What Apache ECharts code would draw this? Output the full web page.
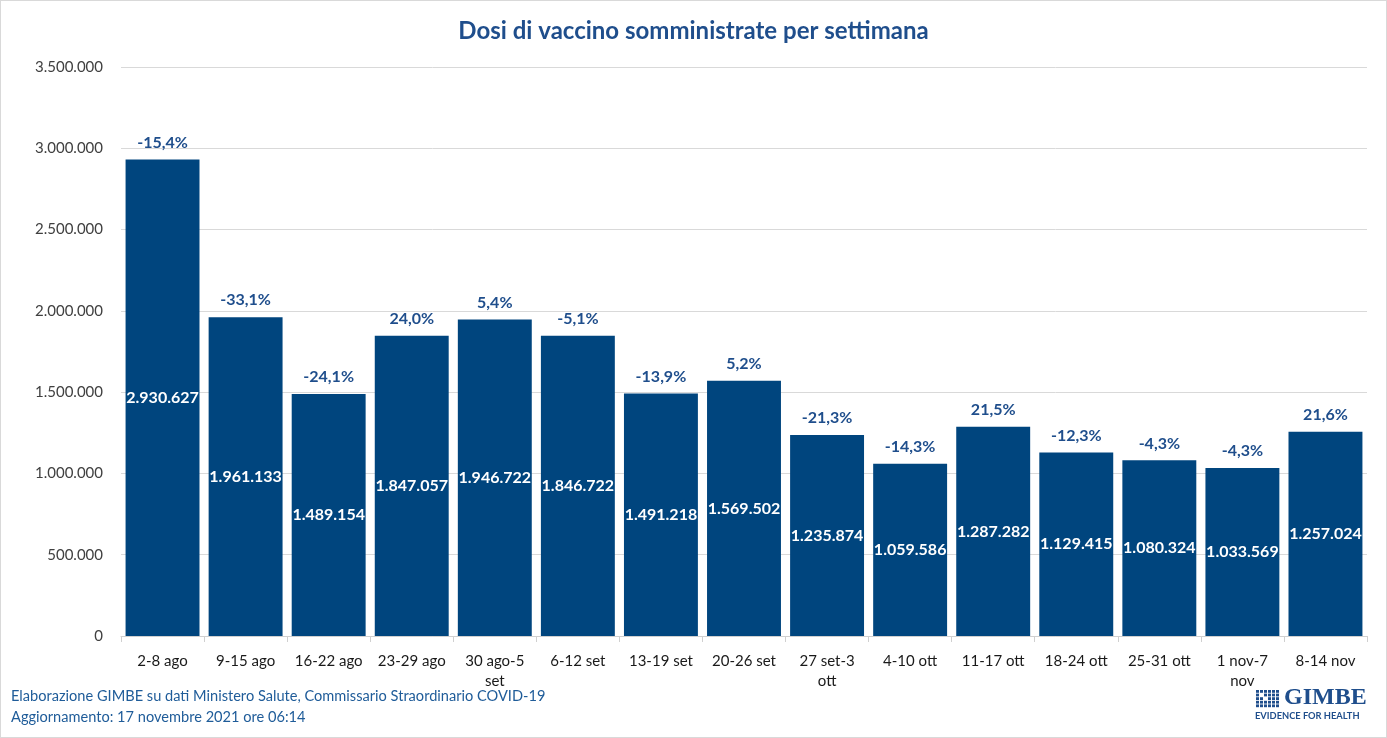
<!DOCTYPE html>
<html><head><meta charset="utf-8">
<script src="https://cdn.jsdelivr.net/npm/echarts@6/dist/echarts.min.js"></script>
<style>html,body{margin:0;padding:0;background:#fff}#c{width:1387px;height:738px;box-sizing:border-box;border:1px solid #d9d9d9}</style>
</head><body><div id="c"></div>
<script>
const categories = ["2-8 ago","9-15 ago","16-22 ago","23-29 ago","30 ago-5\nset","6-12 set","13-19 set","20-26 set","27 set-3\nott","4-10 ott","11-17 ott","18-24 ott","25-31 ott","1 nov-7\nnov","8-14 nov"];
const doses = [2930627,1961133,1489154,1847057,1946722,1846722,1491218,1569502,1235874,1059586,1287282,1129415,1080324,1033569,1257024];
const weeklyChange = [-15.4,-33.1,-24.1,24.0,5.4,-5.1,-13.9,5.2,-21.3,-14.3,21.5,-12.3,-4.3,-4.3,21.6];
const yTicks = [0,500000,1000000,1500000,2000000,2500000,3000000,3500000];

const FONT = 'Lato, "Open Sans", sans-serif';
const BLUE = '#00457e';
const fmt = v => String(Math.round(v)).replace(/\B(?=(\d{3})+(?!\d))/g, '.');
const fmtPct = v => v.toFixed(1).replace('.', ',') + '%';

const chart = echarts.init(document.getElementById('c'));
chart.setOption({
  animation: false,
  title: {
    text: 'Dosi di vaccino somministrate per settimana',
    left: 'center', top: 13,
    textStyle: {fontFamily: FONT, fontSize: 24, fontWeight: 'bold', color: '#1f4e8c'}
  },
  grid: {left: 120, right: 19, top: 66, bottom: 101},
  xAxis: {
    type: 'category', data: categories,
    axisLine: {lineStyle: {color: '#d0d0d0'}},
    axisTick: {show: true, alignWithLabel: false, length: 6, lineStyle: {color: '#d0d0d0'}},
    axisLabel: {fontFamily: FONT, fontSize: 15, color: '#1a1a1a', margin: 15, lineHeight: 20, interval: 0}
  },
  yAxis: {
    type: 'value', min: 0, max: yTicks[yTicks.length-1], interval: 500000,
    axisLine: {show: false}, axisTick: {show: false},
    splitLine: {lineStyle: {color: '#d9d9d9'}},
    axisLabel: {fontFamily: FONT, fontSize: 15, color: '#404040', margin: 18, formatter: v => fmt(v)}
  },
  series: [{
    type: 'bar', data: doses, barCategoryGap: '11%',
    itemStyle: {color: BLUE},
    label: {show: true, position: 'inside', formatter: p => fmt(p.value),
      fontFamily: FONT, fontSize: 16, fontWeight: 'bold', color: '#fff'}
  }, {
    type: 'bar', data: doses, barGap: '-100%', barCategoryGap: '11%',
    itemStyle: {color: 'transparent'}, silent: true, z: 3,
    label: {show: true, position: 'top', distance: 9, formatter: p => fmtPct(weeklyChange[p.dataIndex]),
      fontFamily: FONT, fontSize: 16, fontWeight: 'bold', color: '#1f4e8c'}
  }],
  graphic: [
    {type: 'text', left: 10, top: 688, style: {text: 'Elaborazione GIMBE su dati Ministero Salute, Commissario Straordinario COVID-19', font: '14.6px ' + FONT, fill: '#1f5c99'}},
    {type: 'text', left: 10, top: 709, style: {text: 'Aggiornamento: 17 novembre 2021 ore 06:14', font: '14.6px ' + FONT, fill: '#1f5c99'}},
    {type: 'text', left: 1283, top: 685, style: {text: 'GIMBE', font: 'bold 24px "Liberation Serif", serif', fill: '#1f4e8c'}},
    {type: 'text', left: 1254, top: 710, style: {text: 'EVIDENCE FOR HEALTH', font: 'bold 9.3px ' + FONT, fill: '#1f4e8c'}},
    {type: 'group', left: 1255, top: 689, children: (function(){
      const c = [];
      for (let r = 0; r < 5; r++) for (let k = 0; k < 6; k++) {
        c.push({type: 'rect', shape: {x: k*4, y: r*3.6, width: 3, height: 2.8}, style: {fill: (r===1&&k===1)||(r===2&&k===2)?'#ffffff':'#1f4e8c'}});
      }
      return c;
    })()}
  ]
});
</script></body></html>
